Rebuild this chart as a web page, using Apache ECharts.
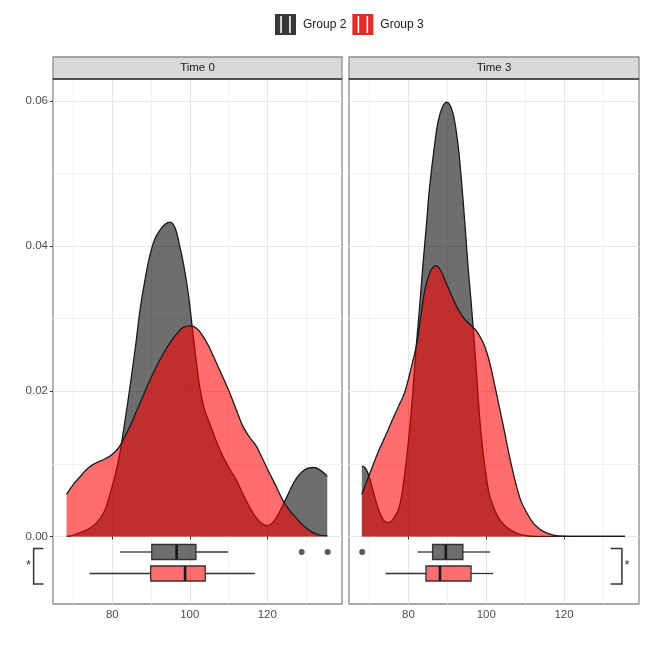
<!DOCTYPE html>
<html>
<head>
<meta charset="utf-8">
<script src="https://cdn.jsdelivr.net/npm/echarts@6/dist/echarts.min.js"></script>
<style>
  html, body { margin: 0; padding: 0; background: #fff; }
  #chart { width: 646px; height: 646px; }
</style>
</head>
<body>
<div id="chart"></div>
<script>
// facets and groups
const times = ['Time 0', 'Time 3']
const groups = ['Group 2', 'Group 3']

// density curves, [value, density]
const densT0G2 = [
  [68.2, 0.0000], [70, 0.0002], [72, 0.0006], [74, 0.0011], [76, 0.0019], [78, 0.0035],
  [79.5, 0.0060], [81, 0.0090], [82, 0.0116], [83.3, 0.0160], [84.6, 0.0207], [86, 0.0262],
  [87.2, 0.0313], [88.5, 0.0355], [89.7, 0.0387], [91, 0.0410], [92.3, 0.0422], [93.6, 0.0430],
  [94.9, 0.0433], [96.2, 0.0425], [97.4, 0.0400], [98.5, 0.0372], [99.6, 0.0335], [100.6, 0.0290],
  [101.6, 0.0245], [102.6, 0.0205], [103.8, 0.0175], [105.2, 0.0155], [106.8, 0.0132],
  [108.5, 0.0111], [110.3, 0.0093], [111.9, 0.0079], [113.6, 0.0060], [115.3, 0.0042],
  [117, 0.0027], [118.8, 0.0017], [120.1, 0.0015], [121.4, 0.0019], [123, 0.0032],
  [124.4, 0.0047], [126, 0.0065], [127.4, 0.0079], [129, 0.0089], [130.5, 0.0094],
  [132, 0.0095], [133.5, 0.0092], [135.5, 0.0083]
]
const densT0G3 = [
  [68.2, 0.0058], [70, 0.0072], [71.8, 0.0083], [73.5, 0.0093], [75, 0.0099], [76.1, 0.0102],
  [77.8, 0.0106], [79.5, 0.0111], [81, 0.0118], [82, 0.0125], [83.3, 0.0138], [84.6, 0.0152],
  [86.3, 0.0173], [88, 0.0194], [89.7, 0.0215], [91.5, 0.0235], [93.2, 0.0252], [94.9, 0.0267],
  [96.6, 0.0279], [98.3, 0.0288], [100.4, 0.0290], [101.9, 0.0286], [103.4, 0.0276],
  [105.1, 0.0260], [106.8, 0.0240], [108.5, 0.0220], [110.3, 0.0198], [112, 0.0175],
  [113.7, 0.0152], [115.4, 0.0137], [117.1, 0.0125], [118.8, 0.0107], [120.5, 0.0088],
  [122.2, 0.0070], [123.9, 0.0051], [125.6, 0.0037], [127.4, 0.0026], [129.5, 0.0014],
  [131.6, 0.0006], [133.5, 0.0002], [135.5, 0.0001]
]
const densT3G2 = [
  [68, 0.0097], [68.8, 0.0095], [69.5, 0.0088], [70.8, 0.0065], [72, 0.0042], [73.3, 0.0025],
  [74.7, 0.0019], [76.2, 0.0025], [77.7, 0.0042], [79, 0.0085], [80.3, 0.0148], [81.2, 0.0205],
  [82, 0.0262], [82.9, 0.0318], [83.7, 0.0373], [84.6, 0.0428], [85.4, 0.0479], [86.5, 0.0530],
  [87.6, 0.0571], [88.8, 0.0592], [89.9, 0.0598], [91, 0.0590], [91.9, 0.0571], [92.8, 0.0537],
  [93.6, 0.0492], [94.5, 0.0432], [95.3, 0.0373], [96, 0.0330], [96.6, 0.0290], [97.3, 0.0240],
  [97.9, 0.0194], [98.5, 0.0152], [99.2, 0.0115], [100, 0.0083], [100.9, 0.0056],
  [102.2, 0.0036], [103.5, 0.0023], [105.2, 0.0013], [106.9, 0.0007], [108.6, 0.0003],
  [110.4, 0.0001], [113, 0], [120, 0], [128, 0], [135.7, 0]
]
const densT3G3 = [
  [68, 0.0058], [69.5, 0.0079], [71, 0.0100], [72.5, 0.0120], [74.2, 0.0140], [75.9, 0.0161],
  [77.5, 0.0180], [79, 0.0198], [80.5, 0.0228], [82, 0.0262], [83.1, 0.0300], [84.1, 0.0336],
  [85, 0.0356], [85.9, 0.0368], [87.1, 0.0373], [88.2, 0.0367], [89.3, 0.0354], [90.6, 0.0338],
  [91.9, 0.0322], [93.2, 0.0309], [94.5, 0.0299], [95.8, 0.0292], [97, 0.0286], [98.1, 0.0278],
  [99.2, 0.0267], [100.3, 0.0251], [101.3, 0.0230], [102.4, 0.0203], [103.5, 0.0175],
  [104.6, 0.0147], [105.6, 0.0120], [106.7, 0.0093], [107.8, 0.0069], [109, 0.0048],
  [110.4, 0.0033], [112, 0.0019], [113.8, 0.0010], [115.5, 0.0005], [117.3, 0.0002],
  [120, 0.00005], [124, 0], [130, 0], [135.7, 0]
]

// boxplot stats per group: [lower whisker, q1, median, q3, upper whisker]
const boxT0 = [[82.0, 90.2, 96.6, 101.6, 109.9], [74.1, 89.9, 98.8, 104.0, 116.8]]
const boxT3 = [[82.3, 86.2, 89.6, 94.0, 101.0], [74.1, 84.5, 88.1, 96.1, 101.8]]
// outliers per group
const outT0 = [[128.9, 135.6], []]
const outT3 = [[68.1], []]
// significance label per facet
const sigLabels = ['*', '*']

// axis breaks
const xMajor = [80, 100, 120]
const xMinor = [70, 90, 110, 130]
const yMajor = [0, 0.02, 0.04, 0.06]
const yMinor = [0.01, 0.03, 0.05]

// layout
const xRange = [64.7, 139.3]
const yRange = [-0.0093, 0.0630]
const boxRowY = [-0.00214, -0.0051]
const bracketY = [-0.00165, -0.00654]
const bracketX = [[59.7, 62.2], [134.9, 132.0]]
const panels = [{ left: 53, width: 289 }, { left: 349, width: 290 }]
const panelTop = 79
const panelHeight = 525

const fills = ['rgba(0,0,0,0.57)', 'rgba(255,0,0,0.57)']
const keyColors = ['#383838', '#e52a2a']
const outlineColor = '#1a1a1a'

let myChart = echarts.init(document.getElementById('chart'))

const densities = [[densT0G2, densT0G3], [densT3G2, densT3G3]]
const boxes = [boxT0, boxT3]
const outliers = [outT0, outT3]

const grids = panels.map(function (p) {
  return {
    left: p.left, top: panelTop, width: p.width, height: panelHeight,
    show: true, borderColor: '#8c8c8c', borderWidth: 1.3, backgroundColor: '#fff'
  }
})

const xAxes = []
const yAxes = []
panels.forEach(function (p, gi) {
  xAxes.push({
    gridIndex: gi, type: 'value', min: xRange[0], max: xRange[1], position: 'bottom',
    axisLine: { show: false },
    axisTick: { show: true, length: 3, lineStyle: { color: '#333' }, customValues: xMajor },
    axisLabel: { customValues: xMajor, color: '#4d4d4d', fontSize: 11.5, margin: 5, fontFamily: 'Liberation Sans' },
    splitLine: { show: true, lineStyle: { color: '#e6e6e6', width: 1 } }
  })
  xAxes.push({
    gridIndex: gi, type: 'value', min: xRange[0], max: xRange[1], position: 'bottom',
    axisLine: { show: false },
    axisTick: { show: false, customValues: xMinor },
    axisLabel: { show: false },
    splitLine: { show: true, lineStyle: { color: '#f1f1f1', width: 1 } }
  })
  yAxes.push({
    gridIndex: gi, type: 'value', min: yRange[0], max: yRange[1], position: 'left',
    axisLine: { show: false },
    axisTick: { show: gi === 0, length: 3, lineStyle: { color: '#333' }, customValues: yMajor },
    axisLabel: {
      show: gi === 0, customValues: yMajor, color: '#4d4d4d', fontSize: 11.5, margin: 5,
      fontFamily: 'Liberation Sans',
      formatter: function (v) { return v.toFixed(2) }
    },
    splitLine: { show: true, lineStyle: { color: '#e6e6e6', width: 1 } }
  })
  yAxes.push({
    gridIndex: gi, type: 'value', min: yRange[0], max: yRange[1], position: 'left',
    axisLine: { show: false },
    axisTick: { show: false, customValues: yMinor },
    axisLabel: { show: false },
    splitLine: { show: true, lineStyle: { color: '#f1f1f1', width: 1 } }
  })
})

function renderBox (params, api) {
  const g = api.value(0)
  const y = api.value(1)
  const lo = api.coord([api.value(2), y])
  const q1 = api.coord([api.value(3), y])
  const md = api.coord([api.value(4), y])
  const q3 = api.coord([api.value(5), y])
  const hi = api.coord([api.value(6), y])
  const h = 15
  const stroke = { stroke: '#333', lineWidth: 1.3 }
  return {
    type: 'group',
    children: [
      { type: 'line', shape: { x1: lo[0], y1: lo[1], x2: q1[0], y2: q1[1] }, style: stroke },
      { type: 'line', shape: { x1: q3[0], y1: q3[1], x2: hi[0], y2: hi[1] }, style: stroke },
      {
        type: 'rect',
        shape: { x: q1[0], y: q1[1] - h / 2, width: q3[0] - q1[0], height: h },
        style: { fill: fills[g], stroke: '#333', lineWidth: 1.3 }
      },
      {
        type: 'line',
        shape: { x1: md[0], y1: md[1] - h / 2, x2: md[0], y2: md[1] + h / 2 },
        style: { stroke: '#1a1a1a', lineWidth: 2.6 }
      }
    ]
  }
}

function renderBracket (params, api) {
  const xv = api.value(0)
  const xe = api.value(1)
  const top = api.coord([xv, api.value(2)])
  const bot = api.coord([xv, api.value(3)])
  const endTop = api.coord([xe, api.value(2)])
  const dir = xe > xv ? -1 : 1
  return {
    type: 'group',
    children: [
      {
        type: 'polyline',
        shape: { points: [[endTop[0], top[1]], [top[0], top[1]], [bot[0], bot[1]], [endTop[0], bot[1]]] },
        style: { stroke: '#333', lineWidth: 1.5, fill: null }
      },
      {
        type: 'text',
        style: {
          text: sigLabels[api.value(4)],
          x: top[0] + dir * 2.5, y: (top[1] + bot[1]) / 2 - 1,
          align: dir < 0 ? 'right' : 'left', verticalAlign: 'middle',
          fontSize: 13, fill: '#333', fontFamily: 'Liberation Sans'
        }
      }
    ]
  }
}

const series = []
times.forEach(function (t, ti) {
  groups.forEach(function (g, gi) {
    series.push({
      name: g,
      type: 'line',
      xAxisIndex: ti * 2,
      yAxisIndex: ti * 2,
      data: densities[ti][gi],
      showSymbol: false,
      smooth: 0.35,
      silent: true,
      z: 2 + gi,
      itemStyle: { color: keyColors[gi] },
      lineStyle: { color: outlineColor, width: 1.3 },
      areaStyle: { color: fills[gi], opacity: 1 }
    })
  })
  series.push({
    name: 'box ' + t,
    type: 'custom',
    xAxisIndex: ti * 2,
    yAxisIndex: ti * 2,
    renderItem: renderBox,
    z: 5,
    data: boxes[ti].map(function (b, gi) { return [gi, boxRowY[gi]].concat(b) })
  })
  const pts = []
  outliers[ti].forEach(function (list, gi) {
    list.forEach(function (v) { pts.push([v, boxRowY[gi]]) })
  })
  series.push({
    name: 'outliers ' + t,
    type: 'scatter',
    xAxisIndex: ti * 2,
    yAxisIndex: ti * 2,
    symbolSize: 6,
    itemStyle: { color: '#5a5a5a', opacity: 1 },
    z: 5,
    data: pts
  })
  series.push({
    name: 'signif ' + t,
    type: 'custom',
    xAxisIndex: ti * 2,
    yAxisIndex: ti * 2,
    renderItem: renderBracket,
    clip: false,
    z: 5,
    data: [[bracketX[ti][0], bracketX[ti][1], bracketY[0], bracketY[1], ti]]
  })
})

const graphics = []
panels.forEach(function (p, i) {
  graphics.push({
    type: 'rect',
    shape: { x: p.left, y: 57, width: p.width, height: panelTop - 57 },
    style: { fill: '#d9d9d9', stroke: '#8c8c8c', lineWidth: 1.3 },
    z: 10
  })
  graphics.push({
    type: 'line',
    shape: { x1: p.left, y1: panelTop, x2: p.left + p.width, y2: panelTop },
    style: { stroke: '#3a3a3a', lineWidth: 1.6 },
    z: 11
  })
  graphics.push({
    type: 'text',
    x: p.left + p.width / 2,
    y: 68,
    style: {
      text: times[i], fontSize: 11.5, fill: '#1a1a1a', fontFamily: 'Liberation Sans',
      align: 'center', verticalAlign: 'middle'
    },
    z: 11
  })
})

let option = {
  backgroundColor: '#fff',
  animation: false,
  legend: {
    left: 275,
    top: 14,
    padding: 0,
    itemWidth: 21,
    itemHeight: 21,
    itemGap: 6,
    icon: 'path://M0,0H20V20H0Z M5,2V18H6.5V2Z M13.5,2V18H15V2Z',
    textStyle: { fontSize: 12, color: '#1a1a1a', fontFamily: 'Liberation Sans', padding: [0, 0, 0, 2] },
    data: groups.map(function (g, gi) {
      return { name: g, itemStyle: { color: keyColors[gi], borderWidth: 0 } }
    })
  },
  grid: grids,
  xAxis: xAxes,
  yAxis: yAxes,
  graphic: graphics,
  series: series
}

myChart.setOption(option)
</script>
</body>
</html>
